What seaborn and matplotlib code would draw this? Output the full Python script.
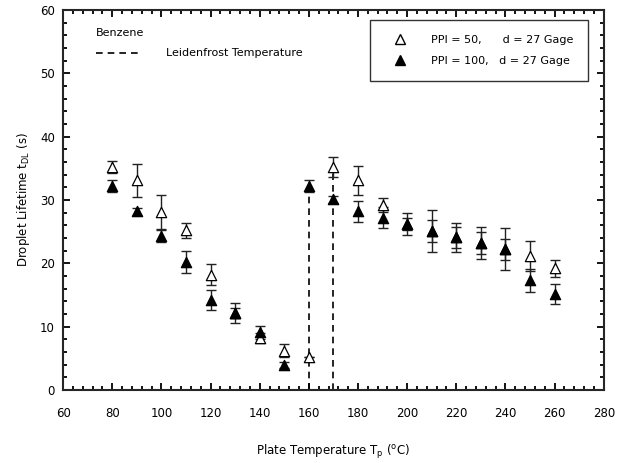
import matplotlib
matplotlib.use("Agg")
import matplotlib.pyplot as plt
import seaborn as sns
import pandas as pd
from matplotlib.ticker import MultipleLocator
from matplotlib.lines import Line2D

temps = [80, 90, 100, 110, 120, 130, 140, 150, 160, 170,
         180, 190, 200, 210, 220, 230, 240, 250, 260]
ppi50 = [35.2, 33.1, 28.1, 25.2, 18.2, 12.2, 8.2, 6.2, 5.2, 35.2,
         33.1, 29.2, 26.2, 25.1, 24.1, 23.2, 22.2, 21.2, 19.2]
ppi50_err = [1.0, 2.6, 2.7, 1.2, 1.7, 1.6, 0.8, 1.0, 0.0, 1.6,
             2.3, 1.1, 1.0, 3.3, 2.3, 2.6, 3.3, 2.4, 1.3]
ppi100 = [32.2, 28.2, 24.3, 20.2, 14.2, 12.2, 9.1, 3.9, 32.2, 30.1,
          28.2, 27.2, 26.2, 25.1, 24.1, 23.2, 22.2, 17.3, 15.2]
ppi100_err = [0.9, 0.5, 1.0, 1.7, 1.6, 0.8, 1.0, 0.5, 0.9, 0.6,
              1.7, 1.7, 1.7, 1.7, 1.7, 1.7, 1.7, 1.8, 1.6]
leiden_x = [160, 170]
leiden_top = [32.2, 35.2]

df = pd.DataFrame({
    "T": temps + temps,
    "t": ppi50 + ppi100,
    "series": ["50"] * len(temps) + ["100"] * len(temps),
})

sns.set_style("ticks")
plt.rcParams["font.family"] = ["DejaVu Sans"]
plt.rcParams["font.size"] = 8
plt.rcParams["text.color"] = "black"
plt.rcParams["axes.labelcolor"] = "black"
plt.rcParams["xtick.color"] = "black"
plt.rcParams["ytick.color"] = "black"

fig = plt.figure(figsize=(6.25, 4.63), dpi=100)
ax = fig.add_axes([0.101, 0.158, 0.865, 0.820])

for x, top in zip(leiden_x, leiden_top):
    ax.plot([x, x], [0, top], color="black", ls=(0, (4, 3)), lw=1.2, zorder=1)

ax.errorbar(temps, ppi50, yerr=ppi50_err, fmt="none", ecolor="#222222",
            elinewidth=1, capsize=3.6, capthick=1, zorder=2)
ax.errorbar(temps, ppi100, yerr=ppi100_err, fmt="none", ecolor="#222222",
            elinewidth=1, capsize=3.6, capthick=1, zorder=2)

sns.scatterplot(data=df[df.series == "50"], x="T", y="t", marker="^", s=55,
                color="white", edgecolor="black", linewidth=0.9, ax=ax,
                legend=False, zorder=3)
sns.scatterplot(data=df[df.series == "100"], x="T", y="t", marker="^", s=55,
                color="black", edgecolor="black", linewidth=0.9, ax=ax,
                legend=False, zorder=4)

ax.set_xlim(60, 280)
ax.set_ylim(0, 60)
ax.xaxis.set_major_locator(MultipleLocator(20))
ax.xaxis.set_minor_locator(MultipleLocator(4))
ax.yaxis.set_major_locator(MultipleLocator(10))
ax.yaxis.set_minor_locator(MultipleLocator(2))
ax.tick_params(which="both", direction="in", top=True, right=True,
               labelsize=8.5, width=1.3)
ax.tick_params(which="major", length=5, pad=12)
ax.tick_params(axis="y", which="major", pad=6)
ax.tick_params(which="minor", length=3)
for sp in ax.spines.values():
    sp.set_linewidth(1.5)

ax.set_xlabel("Plate Temperature T$_\\mathregular{p}$ ($^\\mathregular{o}$C)",
              fontsize=8.5, labelpad=17)
ax.set_ylabel("Droplet Lifetime t$_\\mathregular{DL}$ (s)", fontsize=8.5,
              labelpad=6)

ax.text(0.06, 0.94, "Benzene", transform=ax.transAxes, fontsize=8,
        va="center")
ax.plot([0.06, 0.138], [0.887, 0.887], transform=ax.transAxes, color="black",
        ls=(0, (4, 3)), lw=1.2)
ax.text(0.19, 0.887, "Leidenfrost Temperature", transform=ax.transAxes,
        fontsize=8, va="center")

handles = [
    Line2D([], [], ls="none", marker="^", markersize=7, markerfacecolor="white",
           markeredgecolor="black"),
    Line2D([], [], ls="none", marker="^", markersize=7, markerfacecolor="black",
           markeredgecolor="black"),
]
labels = ["PPI = 50,      d = 27 Gage", "PPI = 100,   d = 27 Gage"]
leg = ax.legend(handles, labels, loc="upper right", bbox_to_anchor=(0.97, 0.974),
                fontsize=8, frameon=True, fancybox=False, edgecolor="black",
                borderpad=1.3, handlelength=2.8, handletextpad=1.4,
                labelspacing=1.05, borderaxespad=0)
leg.get_frame().set_linewidth(1)

fig.savefig("out.png", dpi=100)
